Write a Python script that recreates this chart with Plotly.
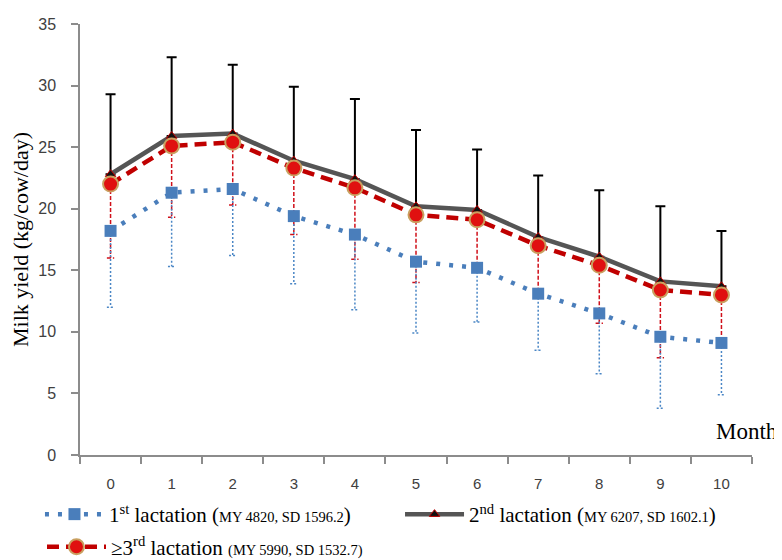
import plotly.graph_objects as go

months = list(range(11))
month_labels = [str(m) for m in months]

# 1st lactation
first_mean = [18.2, 21.3, 21.6, 19.4, 17.9, 15.7, 15.2, 13.1, 11.5, 9.6, 9.1]
first_lower = [12.0, 15.3, 16.2, 13.9, 11.8, 9.9, 10.8, 8.5, 6.6, 3.8, 4.9]

# 2nd lactation
second_mean = [22.8, 25.9, 26.1, 23.9, 22.4, 20.2, 19.9, 17.7, 16.1, 14.1, 13.7]
second_upper = [29.3, 32.3, 31.7, 29.9, 28.9, 26.4, 24.8, 22.7, 21.5, 20.2, 18.2]

# >=3rd lactation
third_mean = [22.0, 25.1, 25.4, 23.3, 21.7, 19.5, 19.1, 17.0, 15.4, 13.4, 13.0]
third_lower = [16.0, 19.3, 20.3, 17.9, 15.9, 14.0, 15.3, 12.8, 10.7, 7.9, 9.0]

names = [
    "1<sup>st</sup> lactation (<span style='font-size:14.5px'>MY 4820, SD 1596.2</span>)",
    "2<sup>nd</sup> lactation (<span style='font-size:14.5px'>MY 6207, SD 1602.1</span>)",
    "\u22653<sup>rd</sup> lactation <span style='font-size:14.5px'>(MY 5990, SD 1532.7)</span>",
]

SERIF = "Liberation Serif"
SANS = "Liberation Sans"
CAP = 0.06


def err_path(means, lows):
    xs, ys = [], []
    for m, a, b in zip(months, means, lows):
        xs += [m, m, None, m - CAP, m + CAP, None]
        ys += [a, b, None, b, b, None]
    return xs, ys


fig = go.Figure()

# lower error bars, 3rd lactation (red dashed)
ex, ey = err_path(third_mean, third_lower)
fig.add_trace(go.Scatter(x=ex, y=ey, mode="lines", showlegend=False, hoverinfo="skip",
                         line=dict(color="#D0101A", width=1.5, dash="4px,2px")))
# lower error bars, 1st lactation (blue dotted)
ex, ey = err_path(first_mean, first_lower)
fig.add_trace(go.Scatter(x=ex, y=ey, mode="lines", showlegend=False, hoverinfo="skip",
                         line=dict(color="#4A86C5", width=1.5, dash="2px,2px")))

# 2nd lactation
fig.add_trace(go.Scatter(
    x=months, y=second_mean, name=names[1], legend="legend2", mode="lines+markers",
    line=dict(color="#555555", width=4.5),
    marker=dict(symbol="triangle-up", size=9, color="#111111",
                line=dict(color="#C00000", width=1)),
    error_y=dict(type="data", symmetric=False,
                 array=[u - m for u, m in zip(second_upper, second_mean)],
                 arrayminus=[0] * len(months), color="#000000", thickness=2, width=5),
))
# >=3rd lactation
fig.add_trace(go.Scatter(
    x=months, y=third_mean, name=names[2], legend="legend3", mode="lines+markers",
    line=dict(color="#C00000", width=4.5, dash="12px,7px"),
    marker=dict(symbol="circle", size=15, color="#E01010",
                line=dict(color="#C9A060", width=2)),
))
# 1st lactation
fig.add_trace(go.Scatter(
    x=months, y=first_mean, name=names[0], legend="legend", mode="lines+markers",
    line=dict(color="#4A7EBB", width=4.5, dash="4px,9px"),
    marker=dict(symbol="square", size=12, color="#4A7EBB"),
))

fig.add_annotation(text="Month", xref="paper", yref="paper", x=1.0417, y=0.0534,
                   xanchor="right", yanchor="middle", showarrow=False,
                   font=dict(family=SERIF, size=23, color="#000000"))

leg_common = dict(orientation="h", xref="container", yref="container",
                  xanchor="left", yanchor="top", itemwidth=59,
                  font=dict(family=SERIF, size=21, color="#000000"),
                  bgcolor="rgba(0,0,0,0)")

fig.update_layout(
    width=774, height=552,
    margin=dict(l=72, r=30, t=16, b=105, autoexpand=False),
    paper_bgcolor="white", plot_bgcolor="white",
    xaxis=dict(range=[-0.5, 10.5], tickmode="array", tickvals=months, ticktext=month_labels,
               ticks="", showline=True, linecolor="#8C8C8C", linewidth=1.5,
               showgrid=False, zeroline=False, ticklabelstandoff=14, automargin=False,
               tickfont=dict(family=SANS, size=15, color="#404040"),
               minor=dict(tickmode="linear", tick0=-0.5, dtick=1, ticks="outside",
                          ticklen=7, tickcolor="#8C8C8C", tickwidth=1.5, showgrid=False)),
    yaxis=dict(range=[0, 35], dtick=5, ticks="outside", ticklen=7, tickcolor="#8C8C8C",
               tickwidth=1.5, showline=True, linecolor="#8C8C8C", linewidth=1.5,
               showgrid=False, zeroline=False, ticklabelstandoff=12, automargin=False,
               tickfont=dict(family=SANS, size=16, color="#404040"),
               title=dict(text="Milk yield (kg/cow/day)", standoff=8,
                          font=dict(family=SERIF, size=22, color="#000000"))),
    legend=dict(x=0.0413, y=0.1196, **leg_common),
    legend2=dict(x=0.5065, y=0.1196, **leg_common),
    legend3=dict(x=0.0439, y=0.0605, **leg_common),
)

fig.write_html("out.html")
